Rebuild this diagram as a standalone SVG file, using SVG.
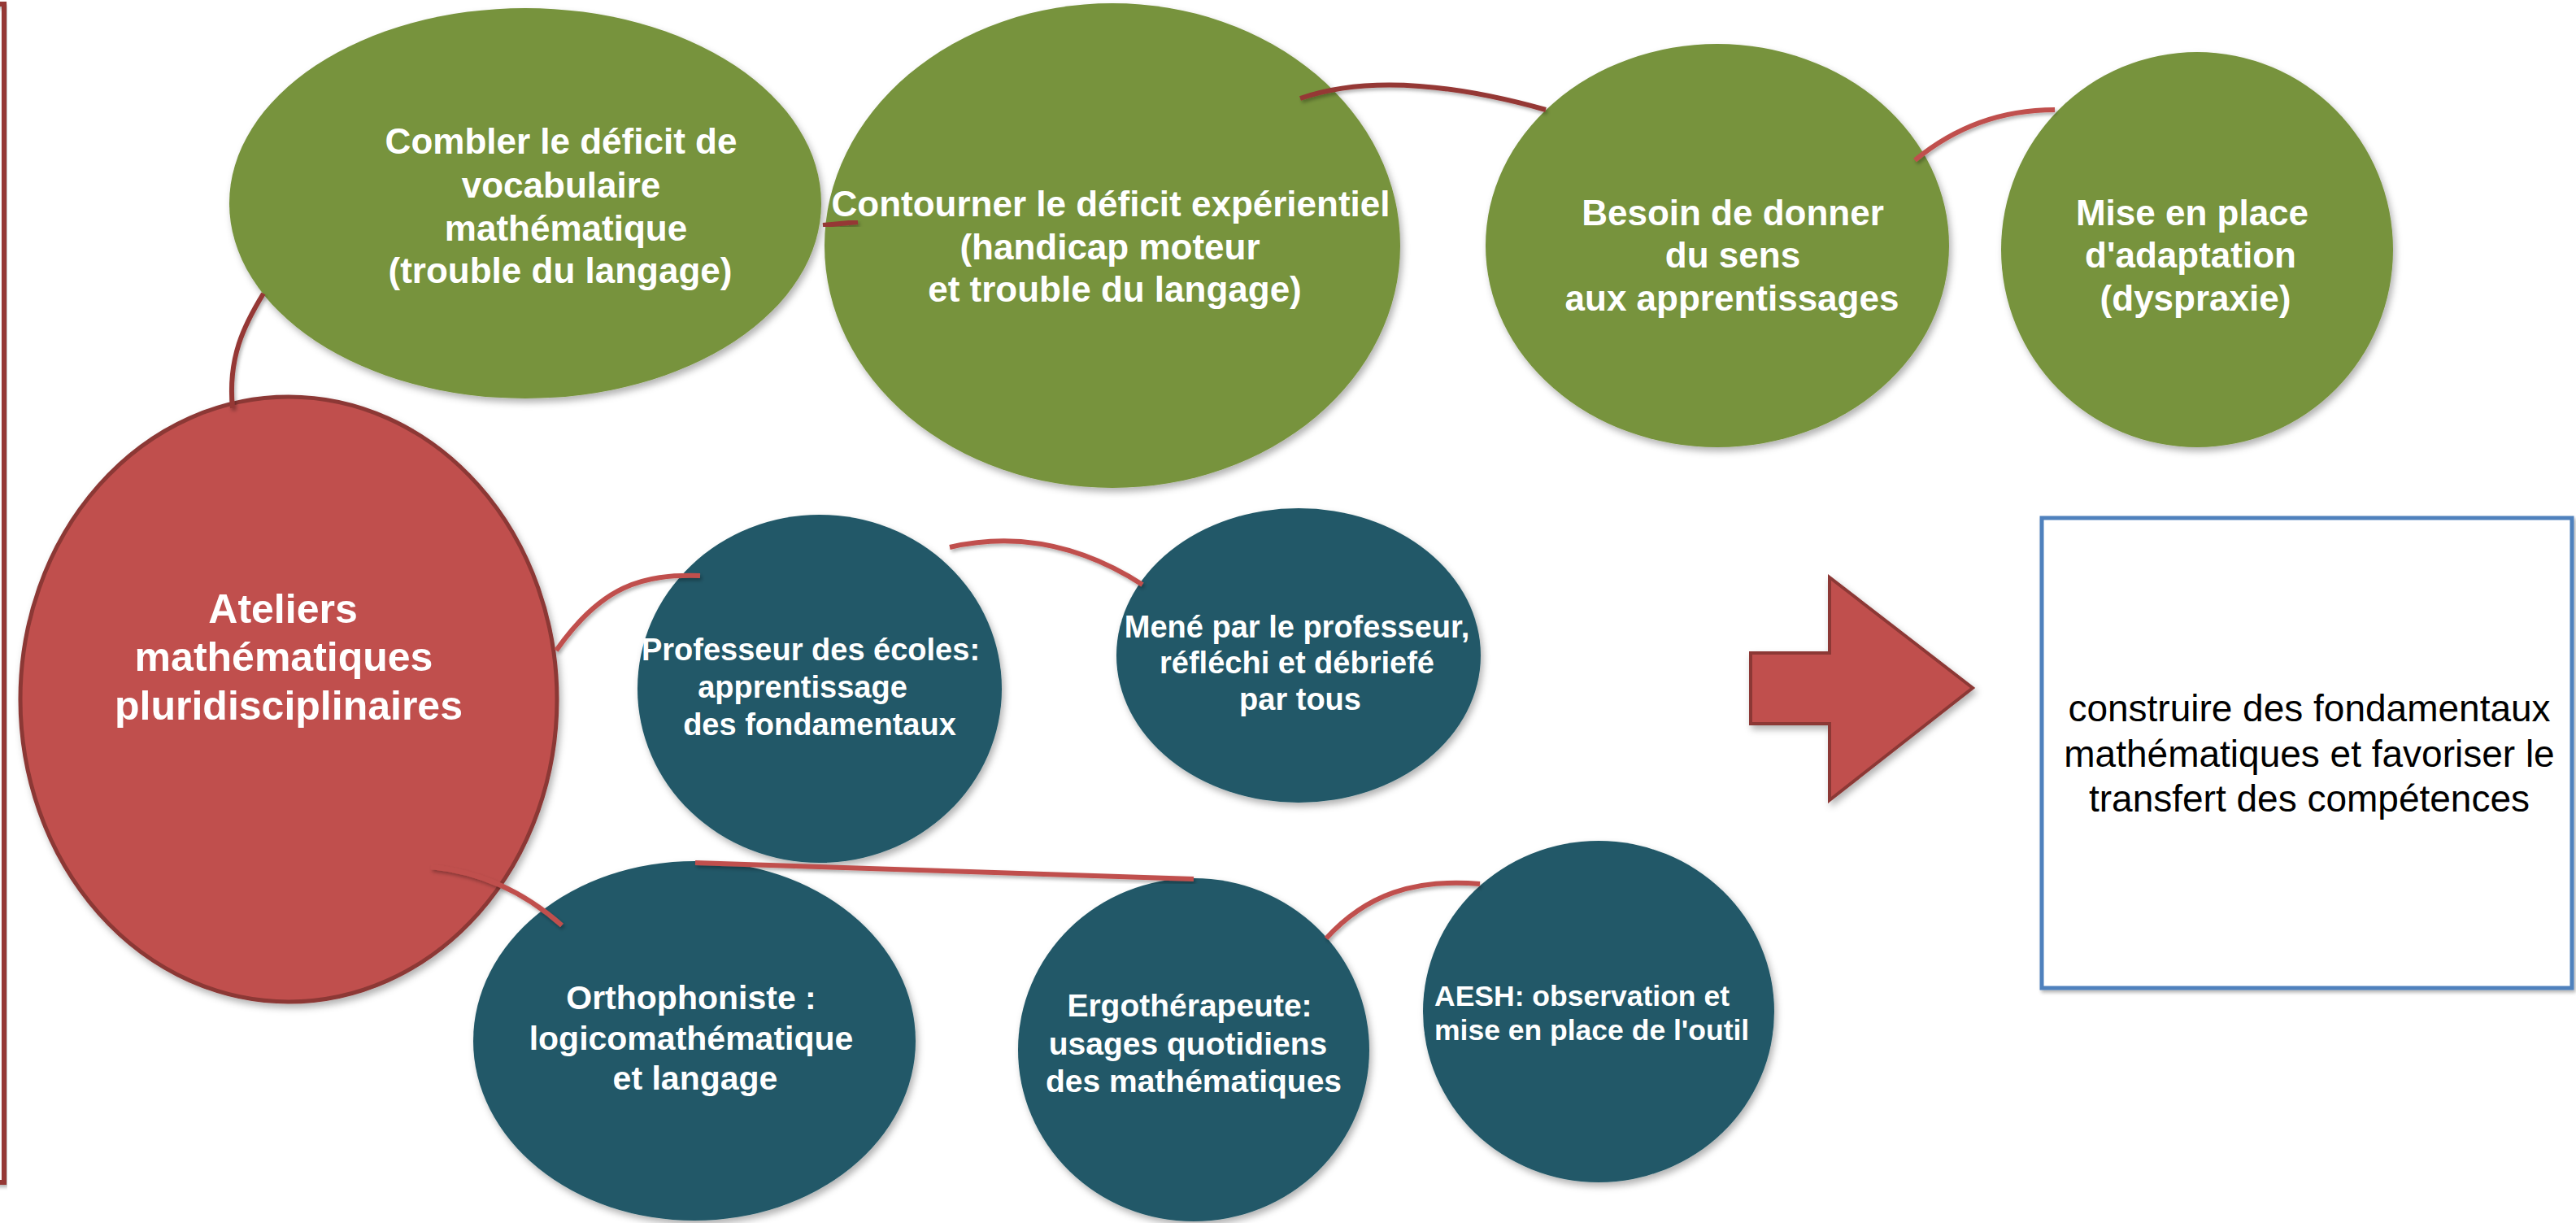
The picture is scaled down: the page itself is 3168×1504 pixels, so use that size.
<svg xmlns="http://www.w3.org/2000/svg" width="3168" height="1504" viewBox="0 0 3168 1504">
<defs>
<filter id="sh" x="-10%" y="-10%" width="125%" height="125%">
<feDropShadow dx="3" dy="5" stdDeviation="4" flood-color="#000" flood-opacity="0.3"/>
</filter>
<filter id="lsh" x="-10%" y="-30%" width="125%" height="160%">
<feDropShadow dx="2" dy="3" stdDeviation="2" flood-color="#000" flood-opacity="0.3"/>
</filter>
<style>
.green{fill:#77933c;filter:url(#sh)}
.teal{fill:#215968;filter:url(#sh)}
.red{fill:#c0504d;stroke:#8c3836;stroke-width:5;filter:url(#sh)}
.wt{fill:#ffffff;font-family:"Liberation Sans",Arial,sans-serif;font-weight:bold;text-anchor:middle}
.bt{fill:#000000;font-family:"Liberation Sans",Arial,sans-serif;text-anchor:middle;font-size:46px}
.cd{fill:none;stroke:#953735;stroke-width:6;filter:url(#lsh)}
.cl{fill:none;stroke:#c0504d;stroke-width:6;filter:url(#lsh)}
</style>
</defs>
<rect width="3168" height="1504" fill="#ffffff"/>
<rect id="frame" x="-20" y="5" width="25" height="1449" fill="none" stroke="#953735" stroke-width="6" filter="url(#lsh)"/>

<g id="combler">
<ellipse class="green" cx="646" cy="250" rx="364" ry="240"/>
<text class="wt" font-size="44"><tspan x="690" y="189">Combler le déficit de</tspan><tspan x="690" y="243">vocabulaire</tspan><tspan x="696" y="296">mathématique</tspan><tspan x="689" y="348">(trouble du langage)</tspan></text>
</g>
<g id="contourner">
<ellipse class="green" cx="1368" cy="302" rx="354" ry="298"/>
<text class="wt" font-size="44"><tspan x="1366" y="266">Contourner le déficit expérientiel</tspan><tspan x="1365" y="319">(handicap moteur</tspan><tspan x="1371" y="371">et trouble du langage)</tspan></text>
</g>
<g id="besoin">
<ellipse class="green" cx="2112" cy="302" rx="285" ry="248"/>
<text class="wt" font-size="44"><tspan x="2131" y="277">Besoin de donner</tspan><tspan x="2131" y="329">du sens</tspan><tspan x="2130" y="382">aux apprentissages</tspan></text>
</g>
<g id="mise">
<ellipse class="green" cx="2702" cy="307" rx="241" ry="243"/>
<text class="wt" font-size="44"><tspan x="2696" y="277">Mise en place</tspan><tspan x="2694" y="329">d'adaptation</tspan><tspan x="2700" y="382">(dyspraxie)</tspan></text>
</g>

<g id="ateliers">
<ellipse class="red" cx="355" cy="860" rx="330" ry="372"/>
<text class="wt" font-size="50"><tspan x="348" y="766">Ateliers</tspan><tspan x="349" y="825">mathématiques</tspan><tspan x="355" y="885">pluridisciplinaires</tspan></text>
</g>

<g id="professeur">
<ellipse class="teal" cx="1008" cy="847" rx="224" ry="214"/>
<text class="wt" font-size="38"><tspan x="997" y="812">Professeur des écoles:</tspan><tspan x="987" y="858">apprentissage</tspan><tspan x="1008" y="904">des fondamentaux</tspan></text>
</g>
<g id="mene">
<ellipse class="teal" cx="1597" cy="806" rx="224" ry="181"/>
<text class="wt" font-size="38"><tspan x="1595" y="784">Mené par le professeur,</tspan><tspan x="1595" y="828">réfléchi et débriefé</tspan><tspan x="1599" y="873">par tous</tspan></text>
</g>
<g id="orthophoniste">
<ellipse class="teal" cx="854" cy="1280" rx="272" ry="221"/>
<text class="wt" font-size="41"><tspan x="850" y="1241">Orthophoniste :</tspan><tspan x="850" y="1291">logicomathématique</tspan><tspan x="855" y="1340">et langage</tspan></text>
</g>
<g id="ergotherapeute">
<ellipse class="teal" cx="1468" cy="1291" rx="216" ry="211"/>
<text class="wt" font-size="39"><tspan x="1463" y="1250">Ergothérapeute:</tspan><tspan x="1461" y="1297">usages quotidiens</tspan><tspan x="1468" y="1343">des mathématiques</tspan></text>
</g>
<g id="aesh">
<ellipse class="teal" cx="1966" cy="1244" rx="216" ry="210"/>
<text class="wt" font-size="35.5" style="text-anchor:start"><tspan x="1764" y="1237">AESH: observation et</tspan><tspan x="1764" y="1279">mise en place de l'outil</tspan></text>
</g>

<g id="connectors">
<path class="cd" d="M324,361 C300,400 280,440 286,502"/>
<path class="cd" d="M1012,277 L1055,273"/>
<path class="cd" d="M1599,121 Q1712,82 1901,135"/>
<path class="cl" d="M2355,197 Q2430,135 2527,135"/>
<path class="cl" d="M684,800 C740,720 790,706 861,708"/>
<path class="cl" d="M1168,673 Q1290,645 1405,719"/>
<path class="cl" d="M530,1066 Q620,1075 691,1138"/>
<path class="cl" d="M855,1061 L1468,1081"/>
<path class="cl" d="M1631,1154 C1680,1100 1740,1080 1820,1087"/>
</g>

<g id="arrow">
<polygon points="2153,803 2250,803 2250,710 2426,846 2250,984 2250,890 2153,890" fill="#c0504d" stroke="#8c3836" stroke-width="4" filter="url(#sh)"/>
</g>

<g id="result">
<rect x="2511" y="637" width="652" height="578" fill="#ffffff" stroke="#4f81bd" stroke-width="5" filter="url(#lsh)"/>
<text class="bt"><tspan x="2840" y="887">construire des fondamentaux</tspan><tspan x="2840" y="943">mathématiques et favoriser le</tspan><tspan x="2840" y="998">transfert des compétences</tspan></text>
</g>
</svg>
